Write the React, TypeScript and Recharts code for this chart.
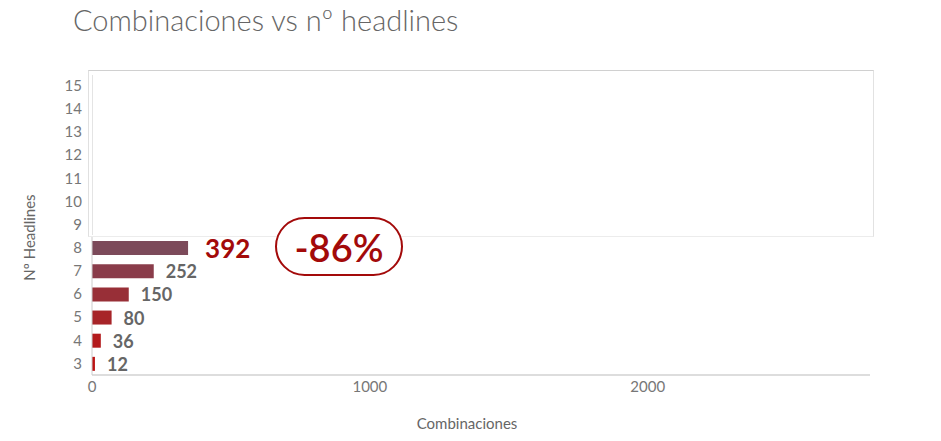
import { BarChart, Bar, XAxis, YAxis, Cell, LabelList } from 'recharts'

// Nº headlines (top to bottom, as on the axis)
const headlines = ['15', '14', '13', '12', '11', '10', '9', '8', '7', '6', '5', '4', '3']
// combinaciones per row, rows 9-15 are covered by the white box in the original
const combinaciones = [null, null, null, null, null, null, null, 392, 252, 150, 80, 36, 12]
const barColors = ['', '', '', '', '', '', '', '#7c4a5a', '#8a3c4a', '#982f37', '#a72428', '#b31a1c', '#bb1313']
const xTicks = [0, 1000, 2000]

const data = headlines.map((n, i) => ({ n, value: combinaciones[i] }))

const FONT = 'Lato, "Open Sans", sans-serif'

const renderValue = (props: any) => {
  const { x, y, width, height, value } = props
  if (value == null) return null
  const big = value === 392
  return (
    <text
      x={x + width + (big ? 17 : 12)}
      y={y + height / 2}
      dominantBaseline="central"
      fontFamily={FONT}
      fontWeight={700}
      fontSize={big ? 26 : 18}
      fill={big ? '#a30a0a' : '#666'}
    >
      {value}
    </text>
  )
}

export default function App() {
  return (
    <div style={{ position: 'absolute', left: 0, top: 0, width: 941, height: 441, background: '#fff', fontFamily: FONT }}>
      <div
        style={{
          position: 'absolute',
          left: 73,
          top: 2,
          fontSize: 29,
          fontWeight: 300,
          color: '#666',
          whiteSpace: 'nowrap',
        }}
      >
        Combinaciones vs nº headlines
      </div>

      <BarChart
        width={941}
        height={441}
        data={data}
        layout="vertical"
        margin={{ top: 74, right: 71, left: 0, bottom: 10 }}
        style={{ position: 'absolute', left: 0, top: 0 }}
      >
        {/* visible axis with the tick labels */}
        <XAxis
          xAxisId="ticks"
          type="number"
          domain={[0, 2800]}
          ticks={xTicks}
          allowDataOverflow
          height={56}
          tickLine={false}
          tickMargin={0}
          stroke="#bbb"
          tick={{ fill: '#777', fontSize: 15, fontFamily: FONT }}
          label={{
            value: 'Combinaciones',
            position: 'insideBottom',
            offset: 2,
            dx: -14,
            fill: '#666',
            fontSize: 15,
            fontFamily: FONT,
          }}
        />
        {/* bar scale */}
        <XAxis xAxisId="bars" orientation="top" type="number" domain={[0, 3175]} hide />
        <YAxis
          type="category"
          dataKey="n"
          width={92}
          tickLine={false}
          tickMargin={4}
          stroke="#ccc"
          interval={0}
          tick={{ fill: '#777', fontSize: 15, fontFamily: FONT }}
          label={{
            value: 'Nº Headlines',
            angle: -90,
            position: 'center',
            dx: -16,
            dy: 13,
            fill: '#666',
            fontSize: 15,
            fontFamily: FONT,
          }}
        />
        <Bar xAxisId="bars" dataKey="value" barSize={14} isAnimationActive={false}>
          {data.map((d, i) => (
            <Cell key={d.n} fill={barColors[i]} />
          ))}
          <LabelList dataKey="value" content={renderValue} />
        </Bar>
      </BarChart>

      {/* white panel over rows 9-15 */}
      <div
        style={{
          position: 'absolute',
          left: 88,
          top: 70,
          width: 786,
          height: 167,
          background: '#fff',
          borderTop: '1px solid #d0d0d0',
          borderRight: '1px solid #e2e2e2',
          borderBottom: '1px solid #ececec',
          borderLeft: '1px solid #e0e0e0',
          boxSizing: 'border-box',
        }}
      >
        <div style={{ position: 'absolute', left: 3, top: 4, width: 1, height: 160, background: '#e4e4e4' }} />
      </div>

      {/* -86% badge */}
      <div
        style={{
          position: 'absolute',
          left: 275,
          top: 217,
          width: 128,
          height: 59,
          boxSizing: 'border-box',
          border: '2px solid #a30a0a',
          borderRadius: 30,
          background: '#fff',
          display: 'flex',
          alignItems: 'center',
          justifyContent: 'center',
          color: '#a30a0a',
          fontSize: 38,
          fontWeight: 600,
          lineHeight: 1,
        }}
      >
        -86%
      </div>
    </div>
  )
}
